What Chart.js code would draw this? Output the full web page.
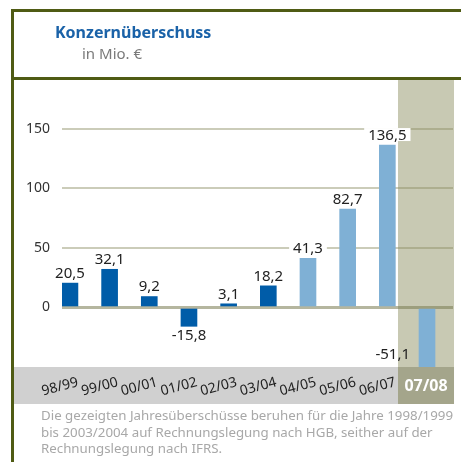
<!DOCTYPE html>
<html>
<head>
<meta charset="utf-8">
<script src="https://cdn.jsdelivr.net/npm/chart.js@4"></script>
<style>
  body { margin: 0; width: 461px; height: 462px; position: relative; overflow: hidden; background: #fff; font-family: "Noto Sans", sans-serif; }
  #chart { position: absolute; left: 0; top: 0; }
  .rule { position: absolute; background: #4f5b14; }
  #title { position: absolute; left: 55px; top: 21px; font-size: 16px; font-weight: bold; color: #1a62a8; }
  #unit { position: absolute; left: 82px; top: 43px; font-size: 15px; color: #7a7a7a; }
  #note { position: absolute; left: 41px; top: 407px; font-size: 13.3px; line-height: 16.5px; color: #a8a8a8; white-space: nowrap; }
</style>
</head>
<body>
<canvas id="chart" width="461" height="462"></canvas>
<div class="rule" style="left:11px;top:9px;width:450px;height:3px"></div>
<div class="rule" style="left:11px;top:77px;width:450px;height:3px"></div>
<div class="rule" style="left:11px;top:9px;width:3px;height:453px"></div>
<div id="title">Konzernüberschuss</div>
<div id="unit">in Mio. €</div>
<div id="note">Die gezeigten Jahresüberschüsse beruhen für die Jahre 1998/1999<br>bis 2003/2004 auf Rechnungslegung nach HGB, seither auf der<br>Rechnungslegung nach IFRS.</div>
<script>
// Konzernüberschuss in Mio. EUR
const years = ['98/99', '99/00', '00/01', '01/02', '02/03', '03/04', '04/05', '05/06', '06/07', '07/08'];
const profit = [20.5, 32.1, 9.2, -15.8, 3.1, 18.2, 41.3, 82.7, 136.5, -51.1];
const hgbCount = 6; // 98/99 - 03/04 nach HGB, danach IFRS
const yTicks = [0, 50, 100, 150];

const darkBlue = '#005ca8';
const lightBlue = '#7fb0d5';
const current = years.length - 1;

function fmt(v) {
    return v.toFixed(1).replace('.', ',');
}

// band for the current year, grey label strip, labels
const decor = {
    id: 'decor',
    beforeDraw(chart) {
        const ctx = chart.ctx;
        const area = chart.chartArea;
        const cx = chart.scales.x.getPixelForValue(current);
        ctx.save();
        ctx.fillStyle = '#d0d0d0';
        ctx.fillRect(14, area.bottom, area.right - 14, 37);
        ctx.fillStyle = '#c8c9b3';
        ctx.fillRect(cx - 29, area.top, 56, area.bottom - area.top);
        ctx.fillStyle = '#a4a58b';
        ctx.fillRect(cx - 29, area.bottom, 56, 37);
        ctx.restore();
    },
    afterDatasetsDraw(chart) {
        const ctx = chart.ctx;
        const area = chart.chartArea;
        const xs = chart.scales.x;
        const meta = chart.getDatasetMeta(0);
        ctx.save();
        ctx.font = '15px "Noto Sans"';
        meta.data.forEach((bar, i) => {
            const v = profit[i];
            const txt = fmt(v);
            const w = ctx.measureText(txt).width;
            let x = bar.x, y;
            if (v >= 0) {
                ctx.textAlign = 'center';
                ctx.textBaseline = 'bottom';
                y = bar.y - 2;
                if (i !== current) {
                    ctx.fillStyle = '#fff';
                    ctx.fillRect(x - w / 2 - 4, y - 15, w + 8, 13);
                }
            } else if (bar.y + 24 < area.bottom) {
                ctx.textAlign = 'center';
                ctx.textBaseline = 'top';
                y = bar.y + 2;
            } else {
                ctx.textAlign = 'right';
                ctx.textBaseline = 'middle';
                x = bar.x - bar.width / 2 - 9;
                y = area.bottom - 12;
            }
            ctx.fillStyle = '#222';
            ctx.fillText(txt, x, y);
        });
        // year labels, rotated, current year upright and bold
        ctx.font = '14px "Noto Sans"';
        ctx.fillStyle = '#222';
        ctx.textAlign = 'right';
        ctx.textBaseline = 'middle';
        years.forEach((yr, i) => {
            if (i === current) return;
            ctx.save();
            ctx.translate(xs.getPixelForValue(i) + 8, area.bottom + 15);
            ctx.rotate(-15 * Math.PI / 180);
            ctx.fillText(yr, 0, 0);
            ctx.restore();
        });
        ctx.font = 'bold 16px "Noto Sans"';
        ctx.fillStyle = '#fff';
        ctx.textAlign = 'center';
        ctx.fillText(years[current], xs.getPixelForValue(current) - 1, area.bottom + 19);
        ctx.restore();
    }
};

new Chart(document.getElementById('chart'), {
    type: 'bar',
    data: {
        datasets: [{
            data: profit.map((v, i) => ({ x: i, y: v })),
            backgroundColor: profit.map((v, i) => i < hgbCount ? darkBlue : lightBlue),
            barThickness: 16
        }]
    },
    options: {
        responsive: false,
        animation: false,
        layout: { padding: { top: 79, left: 0, right: 8, bottom: 58 } },
        plugins: { legend: { display: false }, tooltip: { enabled: false } },
        scales: {
            x: {
                type: 'linear',
                min: -0.2,
                max: 9.655,
                offset: false,
                afterBuildTicks: s => { s.ticks = years.map((_, i) => ({ value: i })); },
                afterFit: s => { s.height = 37; },
                grid: { display: false },
                border: { display: false },
                ticks: { display: false }
            },
            y: {
                min: -50,
                max: 192,
                afterBuildTicks: s => { s.ticks = yTicks.map(v => ({ value: v })); },
                afterFit: s => { s.width = 62; },
                border: { display: false },
                grid: {
                    drawTicks: false,
                    color: c => c.tick.value === 0 ? 'rgba(120,122,80,0.55)' : 'rgba(140,142,100,0.45)',
                    lineWidth: c => c.tick.value === 0 ? 3 : 2
                },
                ticks: {
                    padding: 12,
                    color: '#333',
                    font: { size: 14, family: 'Noto Sans' }
                }
            }
        }
    },
    plugins: [decor]
});
</script>
</body>
</html>
